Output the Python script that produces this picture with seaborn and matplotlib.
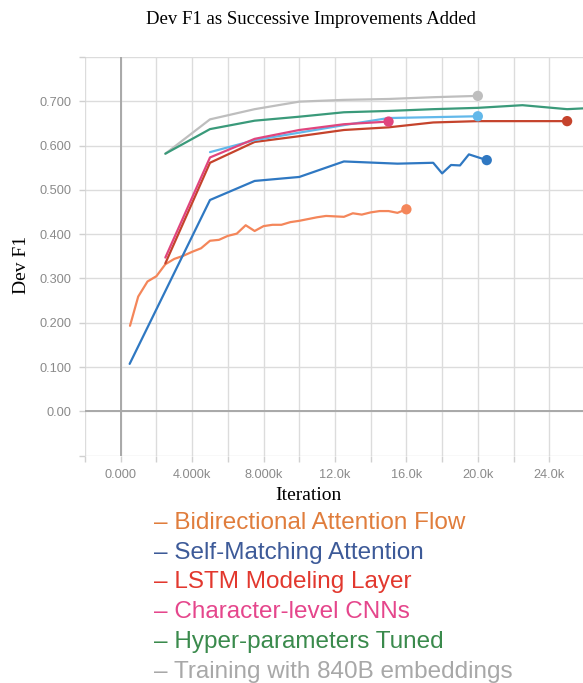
import numpy as np
import pandas as pd
import matplotlib
matplotlib.use("Agg")
import matplotlib.pyplot as plt
import seaborn as sns

# ---------------- data ----------------
bidaf_x = [0.52, 0.98, 1.5, 2.0, 2.5, 3.0, 3.5, 4.0, 4.5, 5.0, 5.5, 6.0, 6.5, 7.0, 7.5, 8.0, 8.5,
           9.0, 9.5, 10.0, 10.5, 11.0, 11.5, 12.0, 12.5, 13.0, 13.5, 14.0, 14.5, 15.0, 15.5, 16.0]
bidaf_y = [0.193, 0.259, 0.293, 0.305, 0.332, 0.344, 0.351, 0.360, 0.368, 0.385, 0.387, 0.396, 0.401,
           0.420, 0.407, 0.418, 0.421, 0.421, 0.427, 0.430, 0.434, 0.438, 0.441, 0.440, 0.439, 0.447,
           0.444, 0.449, 0.452, 0.452, 0.448, 0.456]

selfmatch_x = [0.5, 5.0, 7.5, 10.0, 12.5, 15.5, 17.5, 18.0, 18.5, 19.0, 19.5, 20.5]
selfmatch_y = [0.107, 0.477, 0.520, 0.529, 0.564, 0.559, 0.561, 0.537, 0.556, 0.555, 0.580, 0.567]

lstm_x = [2.5, 5.0, 7.5, 10.0, 12.5, 15.0, 17.5, 20.0, 25.0]
lstm_y = [0.334, 0.561, 0.608, 0.621, 0.635, 0.641, 0.652, 0.655, 0.655]

charcnn_x = [2.5, 5.0, 7.5, 10.0, 12.5, 15.0]
charcnn_y = [0.347, 0.573, 0.615, 0.635, 0.648, 0.654]

lightblue_x = [5.0, 7.5, 10.0, 12.5, 15.0, 20.0]
lightblue_y = [0.585, 0.612, 0.629, 0.646, 0.662, 0.666]

hyper_x = [2.5, 5.0, 7.5, 10.0, 12.5, 15.0, 17.5, 20.0, 22.5, 25.0, 27.5]
hyper_y = [0.5815, 0.637, 0.656, 0.665, 0.675, 0.678, 0.682, 0.685, 0.691, 0.682, 0.687]

glove_x = [2.5, 5.0, 7.5, 10.0, 12.5, 15.0, 17.5, 20.0]
glove_y = [0.5815, 0.659, 0.682, 0.699, 0.703, 0.705, 0.709, 0.712]

series_names = ["Bidirectional Attention Flow", "Self-Matching Attention", "LSTM Modeling Layer",
                "Character-level CNNs", "Extra run", "Hyper-parameters Tuned",
                "Training with 840B embeddings"]
series_x = [bidaf_x, selfmatch_x, lstm_x, charcnn_x, lightblue_x, hyper_x, glove_x]
series_y = [bidaf_y, selfmatch_y, lstm_y, charcnn_y, lightblue_y, hyper_y, glove_y]
has_dot = [True, True, True, True, True, False, True]

line_colors = ["#F4865A", "#2F78C2", "#C5432C", "#E0457E", "#62B8EA", "#3A9A7A", "#BEBEBE"]

legend_labels = ["Bidirectional Attention Flow", "Self-Matching Attention", "LSTM Modeling Layer",
                 "Character-level CNNs", "Hyper-parameters Tuned", "Training with 840B embeddings"]
legend_colors = ["#E07D3C", "#3D5A98", "#E2382E", "#E5468C", "#3A8A4C", "#A8A8A8"]

title = "Dev F1 as Successive Improvements Added"
x_label = "Iteration"
y_label = "Dev F1"
x_ticks = [-2, 0, 2, 4, 6, 8, 10, 12, 14, 16, 18, 20, 22, 24, 26]
x_ticklabels = ["", "0.000", "", "4.000k", "", "8.000k", "", "12.0k", "", "16.0k", "", "20.0k", "", "24.0k", ""]
y_ticks = [-0.1, 0.0, 0.1, 0.2, 0.3, 0.4, 0.5, 0.6, 0.7, 0.8]
y_ticklabels = ["", "0.00", "0.100", "0.200", "0.300", "0.400", "0.500", "0.600", "0.700", ""]

# ---------------- build frame ----------------
rows = []
for name, xs, ys in zip(series_names, series_x, series_y):
    for xv, yv in zip(xs, ys):
        rows.append({"series": name, "iter": xv * 1000.0, "f1": yv})
df = pd.DataFrame(rows)
ends = pd.DataFrame([{"series": n, "iter": xs[-1] * 1000.0, "f1": ys[-1]}
                     for n, xs, ys, d in zip(series_names, series_x, series_y, has_dot) if d])

palette = dict(zip(series_names, line_colors))

sns.set_theme(style="white")
plt.rcParams["font.family"] = ["Liberation Sans", "DejaVu Sans"]

W, H = 583, 683
fig = plt.figure(figsize=(W / 100, H / 100), dpi=100)
ax = fig.add_axes([85 / W, (H - 455.6) / H, (W - 85) / W, (455.6 - 56.9) / H])

ax.set_xticks([t * 1000 for t in x_ticks])
ax.set_xticklabels(x_ticklabels)
ax.set_yticks(y_ticks)
ax.set_yticklabels(y_ticklabels)
ax.set_xlim(-2000, 25890)
ax.set_ylim(-0.1, 0.8)
ax.grid(True, color="#DCDCDC", linewidth=1.0)
ax.set_axisbelow(True)
for s in ax.spines.values():
    s.set_visible(False)
ax.tick_params(axis="both", which="both", length=4, width=1, color="#D0D0D0",
               labelcolor="#8A8A8A", labelsize=9.2, pad=6, left=True, bottom=True)
ax.axvline(0, color="#A8A8A8", linewidth=1.4, zorder=1)
ax.axhline(0, color="#A8A8A8", linewidth=1.4, zorder=1)

draw_order = ["Training with 840B embeddings", "Hyper-parameters Tuned", "Bidirectional Attention Flow",
              "Self-Matching Attention", "LSTM Modeling Layer", "Extra run", "Character-level CNNs"]
for name in draw_order:
    sub = df[df["series"] == name]
    sns.lineplot(data=sub, x="iter", y="f1", color=palette[name], linewidth=1.6,
                 sort=False, estimator=None, ax=ax, legend=False, zorder=3)
sns.scatterplot(data=ends, x="iter", y="f1", hue="series", palette=palette, s=55,
                edgecolor="none", ax=ax, legend=False, zorder=4)

ax.set_xlabel("")
ax.set_ylabel("")

serif = ["Liberation Serif", "DejaVu Serif"]
fig.text(311 / W, 1 - 20 / H, title, ha="center", va="center", fontsize=13.5,
         family=serif, color="black")
fig.text(22 / W, 1 - 265 / H, y_label, ha="center", va="center", rotation=90, fontsize=14,
         family=serif, color="black")
fig.text(308 / W, 1 - 495 / H, x_label, ha="center", va="center", fontsize=14,
         family=serif, color="black")

# text legend
y0 = 522.7
dy = 29.8
for i, (lab, col) in enumerate(zip(legend_labels, legend_colors)):
    fig.text(154 / W, 1 - (y0 + i * dy) / H, "\u2013 " + lab, ha="left", va="center",
             fontsize=17.5, color=col, family=["Liberation Sans", "DejaVu Sans"])

fig.savefig("out.png", dpi=100, facecolor="white")
